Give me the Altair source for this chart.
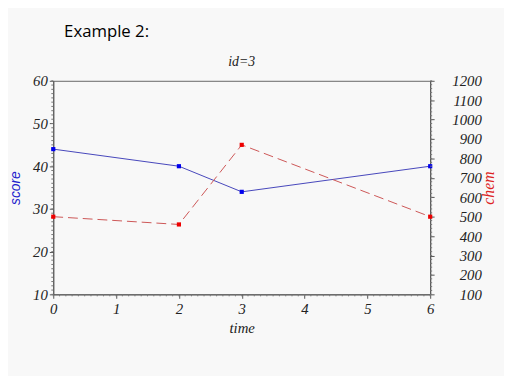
import altair as alt
import pandas as pd
import numpy as np

time = [0, 2, 3, 6]
score = [44, 40, 34, 40]
chem = [500, 460, 870, 500]

x_major = [0, 1, 2, 3, 4, 5, 6]
score_major = [10, 20, 30, 40, 50, 60]
chem_major = [100, 200, 300, 400, 500, 600, 700, 800, 900, 1000, 1100, 1200]
x_minor = [round(v, 1) for v in np.arange(0, 6.01, 0.1)]
score_minor = list(range(10, 61, 1))
chem_minor = list(range(100, 1201, 20))

df = pd.DataFrame({"time": time, "score": score, "chem": chem})

SERIF = "Liberation Serif"
W, H = 383, 217
lab = dict(labelFont=SERIF, labelFontStyle="italic", labelFontSize=15, labelColor="#222",
           labelFlush=False, labelOverlap=False, grid=False, tickColor="#555",
           domainColor="#555", tickSize=4, tickCount=100)

x_axis = alt.Axis(
    values=x_major, format="d", labelPadding=3,
    title="time", titleFont=SERIF, titleFontStyle="italic", titleFontWeight="normal",
    titleFontSize=15, titleColor="#222", titleX=W / 2, titleY=34,
    titleAlign="center", titleBaseline="middle", **lab,
)
x_enc = alt.X("time:Q", scale=alt.Scale(domain=[0, 6], nice=False, zero=False), axis=x_axis)

score_axis = alt.Axis(
    values=score_major, format="d", labelPadding=2,
    title="score", titleFont="Liberation Sans", titleFontStyle="italic",
    titleFontWeight="normal", titleFontSize=14, titleColor="#2222cc",
    titleX=-38, titleY=H / 2, titleAngle=270, titleAlign="center", titleBaseline="middle",
    **lab,
)
chem_axis = alt.Axis(
    orient="right", values=chem_major, format="d",
    labelAlign="right", labelPadding=48,
    title="chem", titleFont=SERIF, titleFontStyle="italic",
    titleFontWeight="normal", titleFontSize=16, titleColor="#dd2222",
    titleX=59, titleY=H / 2, titleAngle=270, titleAlign="center", titleBaseline="middle",
    **lab,
)

base = alt.Chart(df)

score_line = base.mark_line(color="#4444bb", strokeWidth=1).encode(
    x=x_enc,
    y=alt.Y("score:Q", scale=alt.Scale(domain=[10, 60], nice=False, zero=False), axis=score_axis),
)
score_pts = base.mark_square(color="#0000ee", size=18, opacity=1).encode(x="time:Q", y="score:Q")

# minor ticks (through the scales)
xm = alt.Chart(pd.DataFrame({"time": x_minor})).mark_rule(color="#777", strokeWidth=1).encode(
    x="time:Q", y=alt.value(H), y2=alt.value(H + 2)
)
sm = alt.Chart(pd.DataFrame({"score": score_minor})).mark_rule(color="#777", strokeWidth=1).encode(
    y="score:Q", x=alt.value(-2), x2=alt.value(0)
)
cm = alt.Chart(pd.DataFrame({"chem": chem_minor})).mark_rule(color="#777", strokeWidth=1).encode(
    y="chem:Q", x=alt.value(W), x2=alt.value(W + 2)
)

chem_line = base.mark_line(color="#cc5555", strokeWidth=1, strokeDash=[10, 5]).encode(
    x="time:Q",
    y=alt.Y("chem:Q", scale=alt.Scale(domain=[100, 1200], nice=False, zero=False), axis=chem_axis),
)
chem_pts = base.mark_square(color="#ee0000", size=18, opacity=1).encode(x="time:Q", y="chem:Q")

example = alt.Chart(pd.DataFrame({"t": ["Example 2:"]})).mark_text(
    font="Open Sans", fontSize=17, align="left", baseline="middle", color="#000"
).encode(text="t:N", x=alt.value(11), y=alt.value(-50))

subtitle = alt.Chart(pd.DataFrame({"t": ["id=3"]})).mark_text(
    font=SERIF, fontStyle="italic", fontSize=14, align="center", baseline="middle", color="#222"
).encode(text="t:N", x=alt.value(W / 2), y=alt.value(-19))

left = alt.layer(score_line, sm, xm, score_pts, example, subtitle)
right = alt.layer(chem_line, cm, chem_pts)

chart = (
    alt.layer(left, right)
    .resolve_scale(y="independent")
    .properties(
        width=W,
        height=H,
        autosize=alt.AutoSizeParams(type="none"),
        padding={"left": 46, "top": 71, "right": 75, "bottom": 80},
        background="#f8f8f8",
    )
    .configure_view(stroke="#666", strokeWidth=1)
)

chart.save("out.html", embed_options={"renderer": "svg", "actions": False})
